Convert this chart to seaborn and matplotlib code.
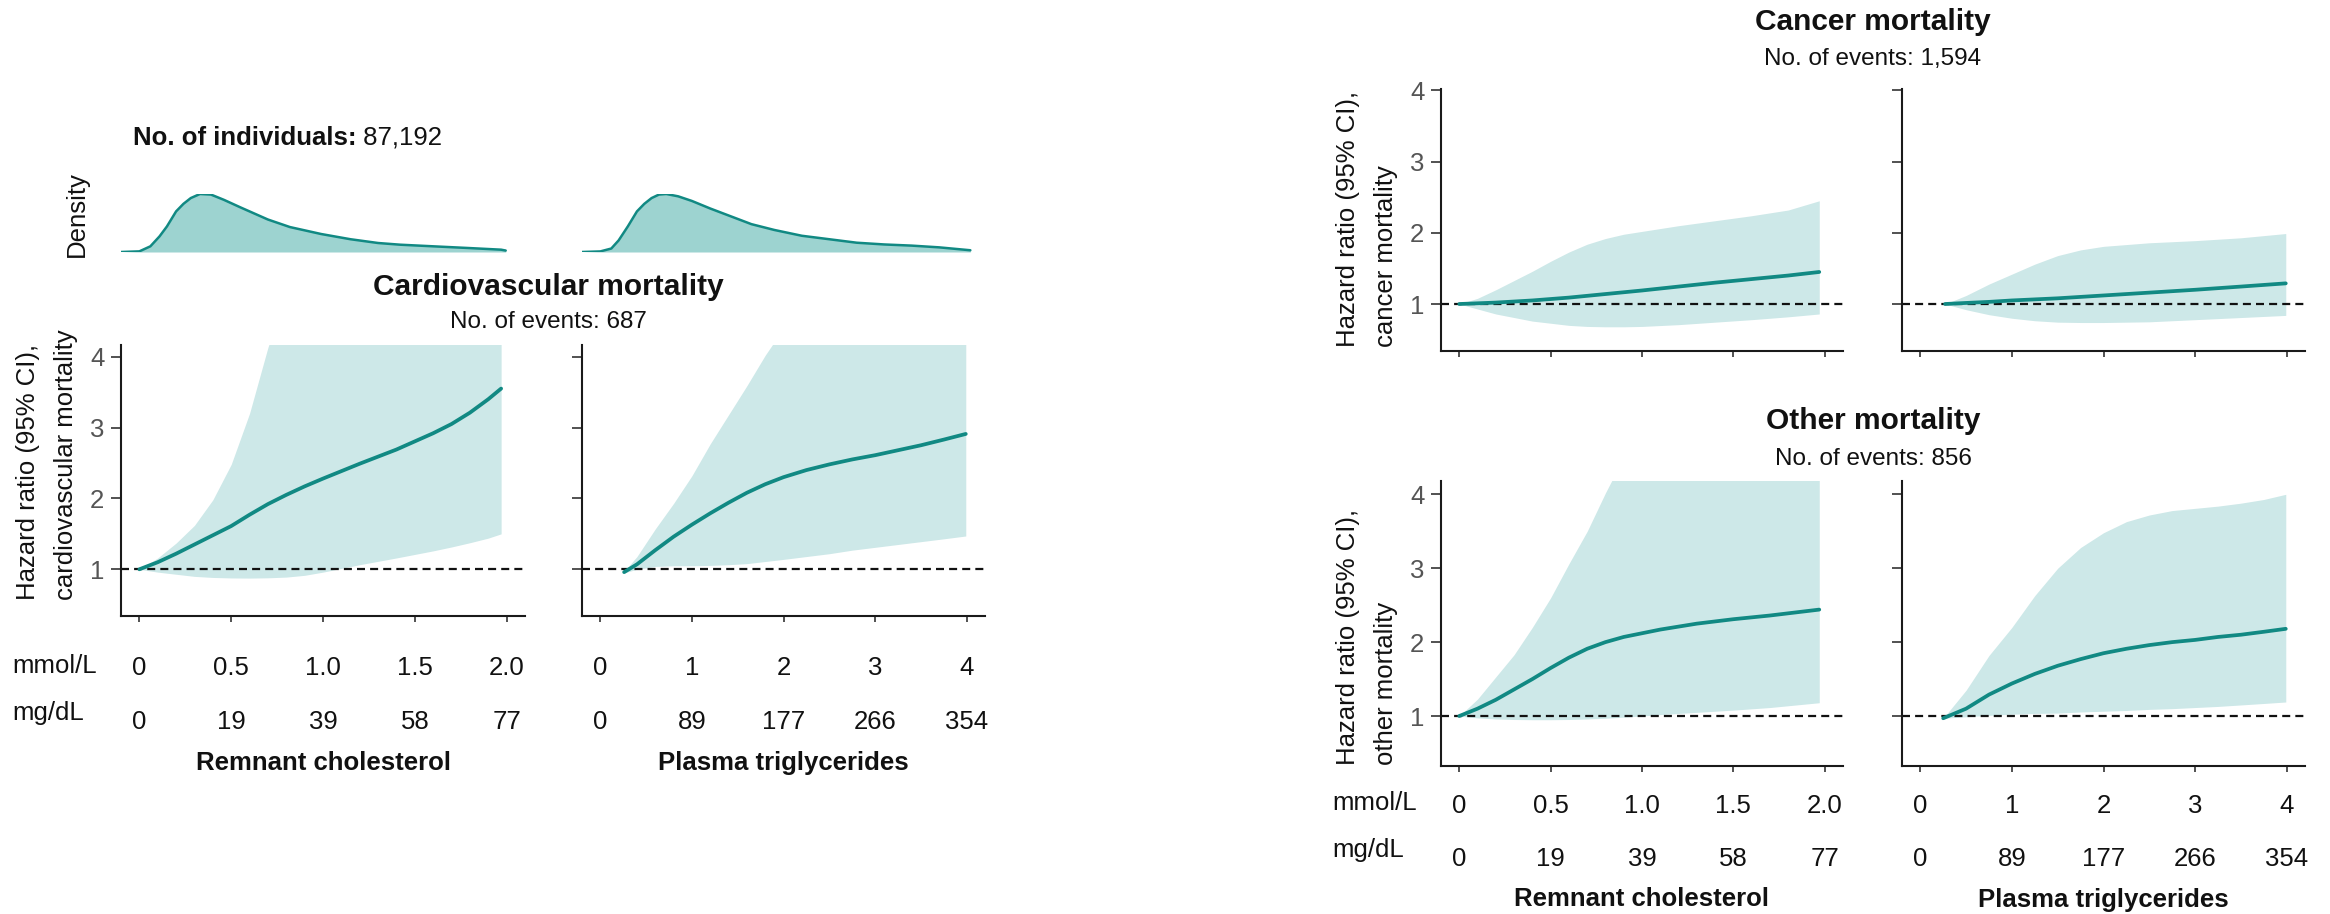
import numpy as np
import pandas as pd
import matplotlib
matplotlib.use("Agg")
import matplotlib.pyplot as plt
import matplotlib.text as mtext
import seaborn as sns

# ---------------- data ----------------
rc_ticks = [0, 0.5, 1.0, 1.5, 2.0]
rc_tick_mmol = ["0", "0.5", "1.0", "1.5", "2.0"]
rc_tick_mg = ["0", "19", "39", "58", "77"]
tg_ticks = [0, 1, 2, 3, 4]
tg_tick_mmol = ["0", "1", "2", "3", "4"]
tg_tick_mg = ["0", "89", "177", "266", "354"]
hr_ticks = [1, 2, 3, 4]

# density of the population (relative height)
dens_rc_x = [-0.1, 0.0, 0.06, 0.11, 0.15, 0.2, 0.24, 0.28, 0.33, 0.39, 0.46, 0.55, 0.7, 0.82,
             0.99, 1.15, 1.3, 1.42, 1.6, 1.79, 1.97, 1.995]
dens_rc_y = [0.0, 0.011, 0.098, 0.27, 0.44, 0.70, 0.83, 0.93, 1.0, 0.99, 0.90, 0.77, 0.56, 0.43,
             0.31, 0.22, 0.155, 0.126, 0.098, 0.069, 0.04, 0.025]
dens_tg_x = [-0.2, 0.0, 0.12, 0.2, 0.3, 0.4, 0.48, 0.56, 0.64, 0.72, 0.85, 1.0, 1.2, 1.4, 1.65,
             1.9, 2.2, 2.5, 2.8, 3.1, 3.4, 3.7, 4.04]
dens_tg_y = [0.0, 0.01, 0.06, 0.2, 0.44, 0.70, 0.83, 0.93, 0.99, 1.0, 0.96, 0.88, 0.75, 0.63, 0.48,
             0.38, 0.28, 0.22, 0.16, 0.13, 0.11, 0.08, 0.03]

# Cardiovascular mortality
cv_rc_x = [0, 0.1, 0.2, 0.3, 0.4, 0.5, 0.6, 0.7, 0.8, 0.9, 1.0, 1.2, 1.4, 1.6, 1.7, 1.8, 1.9, 1.97]
cv_rc_hr = [1.0, 1.10, 1.22, 1.35, 1.48, 1.61, 1.77, 1.92, 2.05, 2.17, 2.28, 2.49, 2.69, 2.92,
            3.05, 3.21, 3.40, 3.55]
cv_rc_hi = [1.0, 1.16, 1.37, 1.62, 1.98, 2.48, 3.2, 4.13, 4.9, 5.5, 6.0, 6.6, 7.0, 7.4, 7.55,
            7.7, 7.85, 8.0]
cv_rc_lo = [1.0, 0.96, 0.93, 0.90, 0.885, 0.878, 0.876, 0.88, 0.89, 0.915, 0.96, 1.065, 1.16, 1.26,
            1.315, 1.375, 1.44, 1.50]

cv_tg_x = [0.26, 0.4, 0.6, 0.8, 1.0, 1.2, 1.4, 1.6, 1.8, 2.0, 2.25, 2.5, 2.75, 3.0, 3.25, 3.5, 3.75, 3.99]
cv_tg_hr = [0.96, 1.07, 1.27, 1.46, 1.63, 1.79, 1.94, 2.08, 2.20, 2.30, 2.40, 2.48, 2.55, 2.61, 2.68, 2.75, 2.83, 2.91]
cv_tg_hi = [0.97, 1.18, 1.57, 1.93, 2.32, 2.77, 3.18, 3.59, 4.02, 4.4, 4.8, 5.1, 5.3, 5.5, 5.6, 5.7, 5.8, 5.9]
cv_tg_lo = [0.95, 1.0, 1.04, 1.05, 1.05, 1.055, 1.065, 1.08, 1.11, 1.14, 1.18, 1.22, 1.27, 1.31, 1.35, 1.39, 1.43, 1.47]

# Cancer mortality
ca_rc_x = [0, 0.1, 0.2, 0.3, 0.4, 0.5, 0.6, 0.7, 0.8, 0.9, 1.0, 1.2, 1.4, 1.6, 1.8, 1.97]
ca_rc_hr = [1.0, 1.01, 1.02, 1.035, 1.05, 1.07, 1.09, 1.115, 1.14, 1.165, 1.19, 1.245, 1.30, 1.35, 1.40, 1.45]
ca_rc_hi = [1.0, 1.08, 1.2, 1.33, 1.46, 1.6, 1.73, 1.84, 1.92, 1.98, 2.02, 2.1, 2.17, 2.24, 2.32, 2.45]
ca_rc_lo = [1.0, 0.93, 0.86, 0.81, 0.76, 0.73, 0.70, 0.685, 0.68, 0.68, 0.685, 0.71, 0.745, 0.78, 0.82, 0.86]

ca_tg_x = [0.27, 0.5, 0.75, 1.0, 1.25, 1.5, 1.75, 2.0, 2.5, 3.0, 3.5, 3.99]
ca_tg_hr = [1.0, 1.015, 1.03, 1.05, 1.065, 1.08, 1.10, 1.12, 1.16, 1.2, 1.245, 1.29]
ca_tg_hi = [1.0, 1.12, 1.28, 1.42, 1.56, 1.68, 1.76, 1.81, 1.86, 1.89, 1.93, 1.99]
ca_tg_lo = [1.0, 0.92, 0.85, 0.80, 0.765, 0.745, 0.74, 0.74, 0.75, 0.78, 0.81, 0.84]

# Other mortality
ot_rc_x = [0, 0.1, 0.2, 0.3, 0.4, 0.5, 0.6, 0.7, 0.8, 0.9, 1.0, 1.1, 1.3, 1.5, 1.7, 1.97]
ot_rc_hr = [1.0, 1.1, 1.22, 1.36, 1.5, 1.65, 1.79, 1.91, 2.0, 2.07, 2.12, 2.17, 2.25, 2.31, 2.36, 2.44]
ot_rc_hi = [1.0, 1.23, 1.53, 1.83, 2.2, 2.6, 3.06, 3.5, 4.02, 4.5, 4.9, 5.2, 5.6, 5.9, 6.1, 6.3]
ot_rc_lo = [1.0, 0.975, 0.96, 0.953, 0.95, 0.95, 0.953, 0.96, 0.97, 0.985, 1.0, 1.02, 1.05, 1.08, 1.115, 1.18]

ot_tg_x = [0.25, 0.5, 0.75, 1.0, 1.25, 1.5, 1.75, 2.0, 2.25, 2.5, 2.75, 3.0, 3.25, 3.5, 3.75, 3.99]
ot_tg_hr = [0.97, 1.1, 1.29, 1.44, 1.57, 1.68, 1.77, 1.85, 1.91, 1.96, 2.0, 2.03, 2.07, 2.10, 2.14, 2.18]
ot_tg_hi = [0.97, 1.35, 1.82, 2.2, 2.63, 3.0, 3.28, 3.48, 3.63, 3.72, 3.78, 3.81, 3.84, 3.88, 3.93, 4.0]
ot_tg_lo = [0.97, 0.99, 1.01, 1.025, 1.035, 1.04, 1.055, 1.065, 1.075, 1.09, 1.10, 1.115, 1.13, 1.15, 1.17, 1.19]

# ---------------- style ----------------
sns.set_theme(style="white")
plt.rcParams["font.family"] = ["Liberation Sans", "DejaVu Sans"]

W, H = 2330, 914
fig = plt.figure(figsize=(W / 100, H / 100), dpi=100)

TEAL = "#118983"
CI_FILL = "#cde8e8"
DENS_FILL = "#9dd3d0"
FS = 18.5
INK = "#111111"


def rect(x0, y0, x1, y1):
    return [x0 / W, 1 - y1 / H, (x1 - x0) / W, (y1 - y0) / H]


def fx(x):
    return x / W


def fy(y):
    return 1 - y / H


def hr_panel(box, xlim, ylim, x, hr, lo, hi, ticks, mmol, mg, show_y, show_x, xpad):
    ax = fig.add_axes(box)
    df = pd.DataFrame({"x": x, "hr": hr, "lo": lo, "hi": hi})
    ax.fill_between(df["x"], df["lo"], df["hi"], color=CI_FILL, lw=0, zorder=1)
    ax.axhline(1, color=INK, lw=1.6, ls=(0, (3.6, 2.3)), zorder=2)
    sns.lineplot(data=df, x="x", y="hr", ax=ax, color=TEAL, lw=2.7, zorder=3)
    ax.set_xlim(xlim)
    ax.set_ylim(ylim)
    ax.set_xlabel("")
    ax.set_ylabel("")
    sns.despine(ax=ax)
    for s in ["left", "bottom"]:
        ax.spines[s].set_linewidth(1.5)
        ax.spines[s].set_color("#1a1a1a")
    ax.set_yticks(hr_ticks)
    ax.set_yticklabels([str(t) for t in hr_ticks] if show_y else [])
    ax.tick_params(axis="y", direction="out", length=7, width=1.2, color="#333333",
                   labelsize=FS, labelcolor="#555555", pad=5, left=True)
    ax.set_xticks(ticks)
    if show_x:
        ax.set_xticklabels([f"{a}\n{b}" for a, b in zip(mmol, mg)])
        for lab in ax.get_xticklabels():
            lab.set_linespacing(2.55)
    else:
        ax.set_xticklabels([])
    ax.tick_params(axis="x", direction="out", length=4.5, width=1.2, color="#333333",
                   labelsize=FS, labelcolor=INK, pad=xpad, bottom=True)
    ax.grid(False)
    return ax


def dens_panel(box, xlim, x, y):
    ax = fig.add_axes(box)
    ax.fill_between(x, 0, y, color=DENS_FILL, lw=0)
    sns.lineplot(x=x, y=y, ax=ax, color=TEAL, lw=1.8)
    ax.set_xlim(xlim)
    ax.set_ylim(0, 1.0)
    ax.axis("off")
    return ax


RC_LIM = (-0.1, 2.1)
TG_LIM = (-0.2, 4.2)

# ----- left block: cardiovascular -----
dens_panel(rect(121, 194, 525, 252), RC_LIM, dens_rc_x, dens_rc_y)
dens_panel(rect(582, 194, 985, 252), TG_LIM, dens_tg_x, dens_tg_y)

hr_panel(rect(121, 345, 525, 616), RC_LIM, (0.341, 4.165), cv_rc_x, cv_rc_hr, cv_rc_lo, cv_rc_hi,
         rc_ticks, rc_tick_mmol, rc_tick_mg, True, True, 24.5)
hr_panel(rect(582, 345, 985, 616), TG_LIM, (0.341, 4.165), cv_tg_x, cv_tg_hr, cv_tg_lo, cv_tg_hi,
         tg_ticks, tg_tick_mmol, tg_tick_mg, False, True, 24.5)

# ----- right block: cancer and other -----
hr_panel(rect(1441, 89, 1843, 351), RC_LIM, (0.34, 4.02), ca_rc_x, ca_rc_hr, ca_rc_lo, ca_rc_hi,
         rc_ticks, rc_tick_mmol, rc_tick_mg, True, False, 15)
hr_panel(rect(1902, 89, 2305, 351), TG_LIM, (0.34, 4.02), ca_tg_x, ca_tg_hr, ca_tg_lo, ca_tg_hi,
         tg_ticks, tg_tick_mmol, tg_tick_mg, False, False, 15)
hr_panel(rect(1441, 481, 1843, 766), RC_LIM, (0.324, 4.18), ot_rc_x, ot_rc_hr, ot_rc_lo, ot_rc_hi,
         rc_ticks, rc_tick_mmol, rc_tick_mg, True, True, 15.5)
hr_panel(rect(1902, 481, 2305, 766), TG_LIM, (0.324, 4.18), ot_tg_x, ot_tg_hr, ot_tg_lo, ot_tg_hi,
         tg_ticks, tg_tick_mmol, tg_tick_mg, False, True, 15.5)

# ----- texts -----
bold_t = fig.text(fx(133), fy(138), "No. of individuals:", fontsize=FS, fontweight="bold",
                  ha="left", va="center", color=INK)
fig.add_artist(mtext.Annotation(" 87,192", xy=(1, 0), xycoords=bold_t, fontsize=FS,
                                ha="left", va="bottom", color=INK))
fig.text(fx(77), fy(214), "Density", rotation=90, fontsize=FS, ha="center", va="center",
         color=INK)

fig.text(fx(548), fy(287), "Cardiovascular mortality", fontsize=21.5, fontweight="bold",
         ha="center", va="center", color=INK)
fig.text(fx(548), fy(322), "No. of events: 687", fontsize=17.5, ha="center", va="center",
         color=INK)
fig.text(fx(1873), fy(22), "Cancer mortality", fontsize=21.5, fontweight="bold",
         ha="center", va="center", color=INK)
fig.text(fx(1873), fy(59), "No. of events: 1,594", fontsize=17.5, ha="center", va="center",
         color=INK)
fig.text(fx(1873), fy(421), "Other mortality", fontsize=21.5, fontweight="bold",
         ha="center", va="center", color=INK)
fig.text(fx(1873), fy(459), "No. of events: 856", fontsize=17.5, ha="center", va="center",
         color=INK)

ylab_kw = dict(rotation=90, fontsize=FS, ha="center", va="bottom", multialignment="left",
               linespacing=1.75, color=INK)
fig.text(fx(47), fy(600), "Hazard ratio (95% CI),\ncardiovascular mortality", **ylab_kw)
fig.text(fx(1367), fy(347), "Hazard ratio (95% CI),\ncancer mortality", **ylab_kw)
fig.text(fx(1367), fy(765), "Hazard ratio (95% CI),\nother mortality", **ylab_kw)

for (x, y1, y2) in [(12, 666, 713), (1332, 803, 850)]:
    fig.text(fx(x), fy(y1), "mmol/L", fontsize=FS, ha="left", va="center", color=INK)
    fig.text(fx(x), fy(y2), "mg/dL", fontsize=FS, ha="left", va="center", color=INK)

for (x, y, s) in [(323, 763, "Remnant cholesterol"), (783, 763, "Plasma triglycerides"),
                  (1642, 899, "Remnant cholesterol"), (2103, 900, "Plasma triglycerides")]:
    fig.text(fx(x), fy(y), s, fontsize=FS, fontweight="bold", ha="center", va="center",
             color=INK)

fig.savefig("out.png", dpi=100)
